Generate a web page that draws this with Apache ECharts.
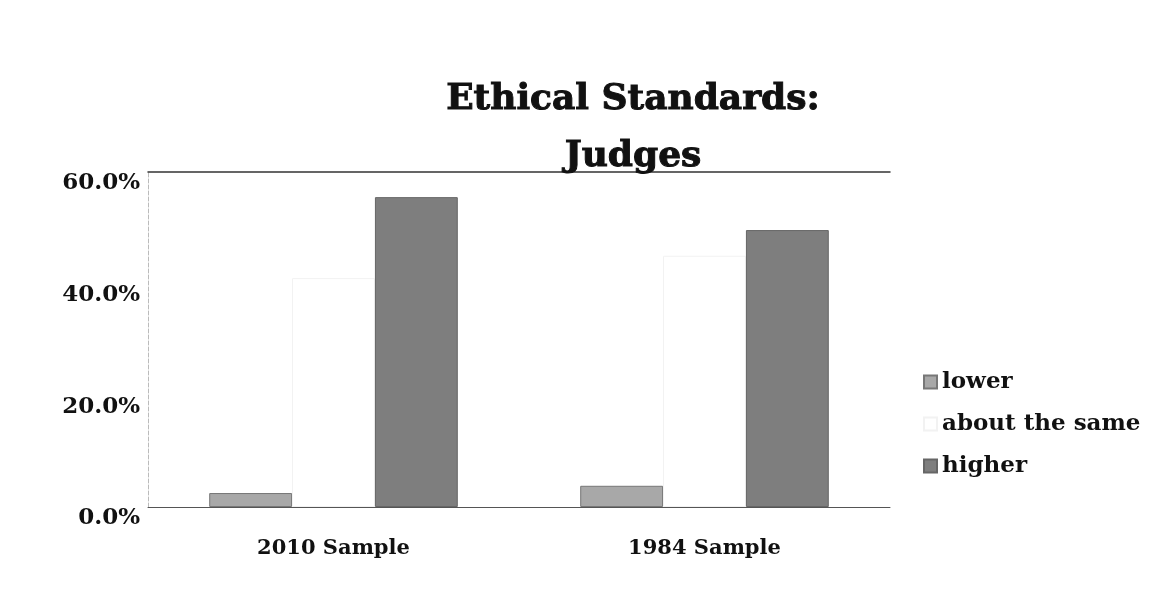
<!DOCTYPE html>
<html>
<head>
<meta charset="utf-8">
<script src="https://cdn.jsdelivr.net/npm/echarts@6/dist/echarts.min.js"></script>
<style>
  html, body { margin: 0; padding: 0; background: #fff; }
  #chart { width: 1175px; height: 589px; }
</style>
</head>
<body>
<div id="chart"></div>
<script>
  // values, in percent
  const categories = ['2010 Sample', '1984 Sample']
  const lower = [2.5, 3.8]
  const aboutSame = [41, 45]
  const higher = [55.5, 49.6]
  const seriesNames = ['lower', 'about the same', 'higher']

  const serif = 'DejaVu Serif'
  const chart = echarts.init(document.getElementById('chart'))

  chart.setOption({
    animation: false,
    title: {
      text: 'Ethical Standards:\nJudges',
      left: 628,
      top: 66,
      textAlign: 'center',
      textStyle: {
        fontFamily: serif,
        fontWeight: 'bold',
        fontSize: 36,
        lineHeight: 57,
        color: '#111',
        textBorderColor: '#111',
        textBorderWidth: 1
      }
    },
    legend: {
      orient: 'vertical',
      left: 918,
      top: 363,
      icon: 'rect',
      itemGap: 14,
      itemWidth: 13,
      itemHeight: 13,
      textStyle: { fontFamily: serif, fontWeight: 'bold', fontSize: 23, lineHeight: 28, color: '#111' },
      data: seriesNames
    },
    grid: { left: 148, right: 285, top: 172, bottom: 82 },
    xAxis: [
      {
        type: 'category',
        data: categories,
        axisTick: { show: false },
        axisLine: { lineStyle: { color: '#555', width: 1 } },
        axisLabel: { fontFamily: serif, fontWeight: 'bold', fontSize: 21, color: '#111', margin: 31 }
      },
      {
        type: 'category',
        position: 'top',
        data: categories,
        axisTick: { show: false },
        axisLabel: { show: false },
        axisLine: { lineStyle: { color: '#333', width: 1.5 } }
      }
    ],
    yAxis: {
      type: 'value',
      min: 0,
      max: 60,
      interval: 20,
      axisLine: { show: true, lineStyle: { color: '#bbb', type: 'dashed' } },
      axisTick: { show: false },
      splitLine: { show: false },
      axisLabel: {
        fontFamily: serif,
        fontWeight: 'bold',
        fontSize: 23,
        color: '#111',
        margin: 8,
        verticalAlign: 'top',
        formatter: v => v.toFixed(1) + '%'
      }
    },
    series: [
      {
        name: 'lower',
        type: 'bar',
        data: lower,
        barGap: '0%',
        barCategoryGap: '33%',
        itemStyle: { color: '#a8a8a8', borderColor: '#777', borderWidth: 1 }
      },
      {
        name: 'about the same',
        type: 'bar',
        data: aboutSame,
        itemStyle: { color: '#ffffff', borderColor: '#f2f2f2', borderWidth: 1 }
      },
      {
        name: 'higher',
        type: 'bar',
        data: higher,
        itemStyle: { color: '#7e7e7e', borderColor: '#666', borderWidth: 1 }
      }
    ]
  })
</script>
</body>
</html>
